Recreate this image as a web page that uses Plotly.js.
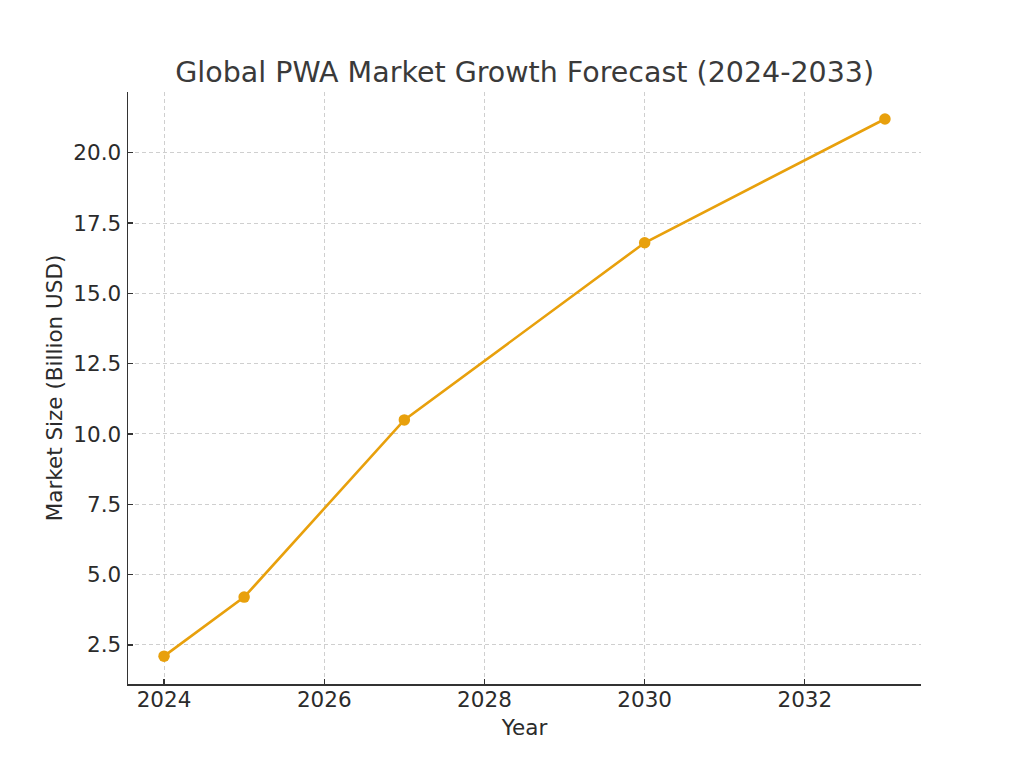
<!DOCTYPE html>
<html>
<head>
<meta charset="utf-8">
<script src="https://cdn.plot.ly/plotly-3.0.1.min.js"></script>
<style>html,body{margin:0;padding:0;background:#fff;}#chart{width:1024px;height:768px;}</style>
</head>
<body>
<div id="chart"></div>
<script>
const years = [2024, 2025, 2027, 2030, 2033];
const marketSize = [2.1, 4.2, 10.5, 16.8, 21.2];
const xTicks = [2024, 2026, 2028, 2030, 2032];
const yTicks = [2.5, 5.0, 7.5, 10.0, 12.5, 15.0, 17.5, 20.0];

const font = "DejaVu Sans, sans-serif";
const textColor = "#2b2b2b";

const trace = {
  x: years,
  y: marketSize,
  type: "scatter",
  mode: "lines+markers",
  line: {color: "#E8A00C", width: 2.6},
  marker: {color: "#E8A00C", size: 11.5},
  hoverinfo: "x+y"
};

const layout = {
  width: 1024,
  height: 768,
  paper_bgcolor: "#ffffff",
  plot_bgcolor: "#ffffff",
  margin: {l: 128, r: 103, t: 92, b: 84},
  showlegend: false,
  font: {family: font, color: textColor, size: 21.5},
  title: {
    text: "Global PWA Market Growth Forecast (2024-2033)",
    font: {family: font, size: 28.5, color: "#3a3a3a"},
    x: 0.5124, xanchor: "center",
    y: 1 - 72/768, yanchor: "middle"
  },
  xaxis: {
    range: [2023.55, 2033.45],
    tickvals: xTicks,
    ticktext: xTicks.map(String),
    ticks: "inside",
    ticklen: 5,
    tickwidth: 1.3,
    tickcolor: "#333333",
    ticklabelstandoff: -4,
    showline: true,
    linecolor: "#333333",
    linewidth: 1.5,
    mirror: false,
    showgrid: true,
    gridcolor: "#cfcfcf",
    gridwidth: 1,
    griddash: "4px,3px",
    zeroline: false,
    tickfont: {family: font, size: 21.5, color: textColor},
    title: {text: "Year", font: {family: font, size: 21.5, color: textColor}, standoff: 8}
  },
  yaxis: {
    range: [1.11, 22.16],
    tickvals: yTicks,
    ticktext: yTicks.map(v => v.toFixed(1)),
    ticks: "inside",
    ticklen: 5,
    tickwidth: 1.3,
    tickcolor: "#333333",
    ticklabelstandoff: 1,
    showline: true,
    linecolor: "#333333",
    linewidth: 1.5,
    mirror: false,
    showgrid: true,
    gridcolor: "#cfcfcf",
    gridwidth: 1,
    griddash: "4px,3px",
    zeroline: false,
    tickfont: {family: font, size: 21.5, color: textColor},
    title: {text: "Market Size (Billion USD)", font: {family: font, size: 21.5, color: textColor}, standoff: 5}
  }
};

Plotly.newPlot("chart", [trace], layout, {displayModeBar: false, staticPlot: true});
</script>
</body>
</html>
